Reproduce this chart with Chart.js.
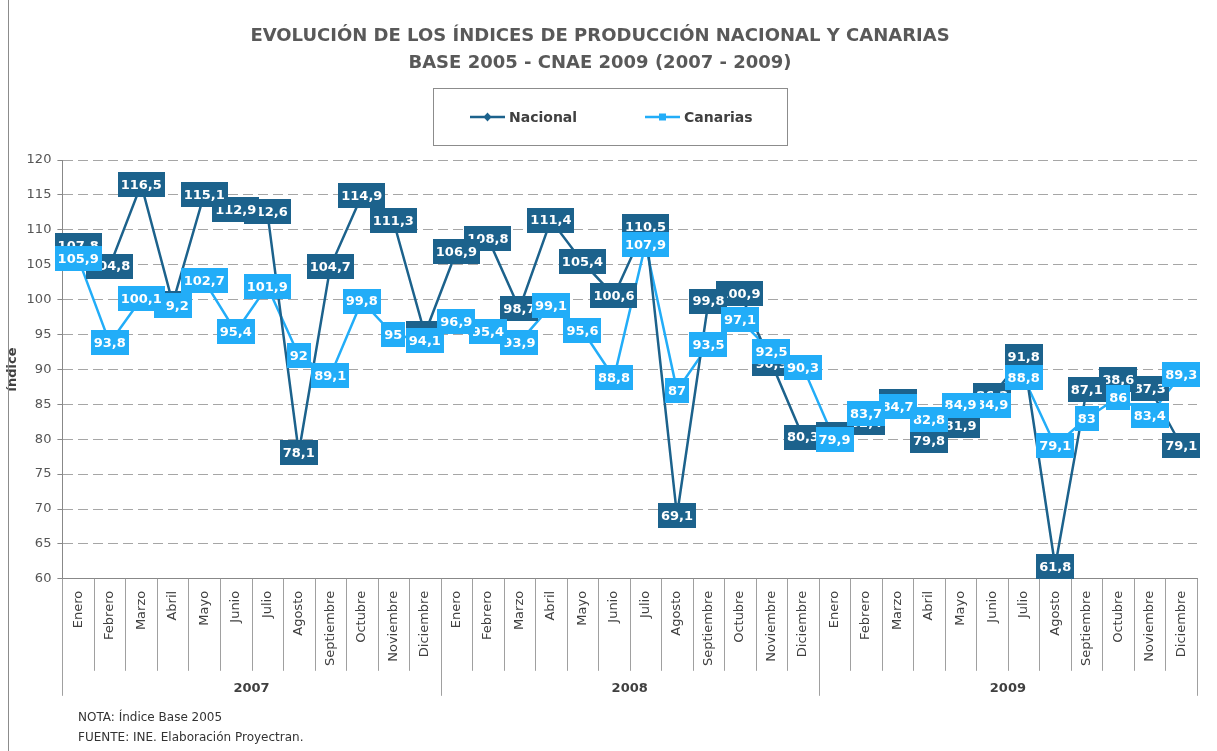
<!DOCTYPE html>
<html>
<head>
<meta charset="utf-8">
<script src="https://cdn.jsdelivr.net/npm/chart.js@4.4.1/dist/chart.umd.min.js"></script>
<style>
  html, body { margin: 0; padding: 0; background: #fff; }
  #wrap { width: 1217px; height: 751px; }
</style>
</head>
<body>
<div id="wrap"><canvas id="grafico" width="1217" height="751"></canvas></div>
<script>
// datos
const meses = ['Enero', 'Febrero', 'Marzo', 'Abril', 'Mayo', 'Junio', 'Julio', 'Agosto', 'Septiembre', 'Octubre', 'Noviembre', 'Diciembre'];
const anios = ['2007', '2008', '2009'];
const categorias = anios.flatMap(() => meses);

const nacional = [
    107.8, 104.8, 116.5, 99.5, 115.1, 112.9, 112.6, 78.1, 104.7, 114.9, 111.3, 95.1,
    106.9, 108.8, 98.7, 111.4, 105.4, 100.6, 110.5, 69.1, 99.8, 100.9, 90.9, 80.3,
    80.7, 82.4, 85.4, 79.8, 81.9, 86.2, 91.8, 61.8, 87.1, 88.6, 87.3, 79.1
];
const canarias = [
    105.9, 93.8, 100.1, 99.2, 102.7, 95.4, 101.9, 92, 89.1, 99.8, 95, 94.1,
    96.9, 95.4, 93.9, 99.1, 95.6, 88.8, 107.9, 87, 93.5, 97.1, 92.5, 90.3,
    79.9, 83.7, 84.7, 82.8, 84.9, 84.9, 88.8, 79.1, 83, 86, 83.4, 89.3
];
const yTicks = [60, 65, 70, 75, 80, 85, 90, 95, 100, 105, 110, 115, 120];

const colorNac = '#1c628c';
const colorCan = '#22adf8';
const FONT = '"DejaVu Sans", Verdana, sans-serif';

function fmt(v) {
    return String(v).replace('.', ',');
}

// etiquetas de valor con caja de color
const etiquetas = {
    id: 'etiquetas',
    afterDatasetsDraw(chart) {
        const ctx = chart.ctx;
        ctx.save();
        ctx.font = 'bold 13px ' + FONT;
        ctx.textAlign = 'center';
        ctx.textBaseline = 'middle';
        chart.data.datasets.forEach((ds, di) => {
            const meta = chart.getDatasetMeta(di);
            for (let i = meta.data.length - 1; i >= 0; i--) {
                const p = meta.data[i];
                const txt = fmt(ds.data[i]);
                const w = ctx.measureText(txt).width + 6;
                const h = 25;
                ctx.fillStyle = ds.borderColor;
                ctx.fillRect(Math.round(p.x - w / 2), Math.round(p.y - h / 2), Math.round(w), h);
                ctx.fillStyle = '#fff';
                ctx.fillText(txt, p.x, p.y + 1);
            }
        });
        ctx.restore();
    }
};

// leyenda en recuadro, separadores del eje x, años y notas
const extras = {
    id: 'extras',
    afterDraw(chart) {
        const ctx = chart.ctx;
        const area = chart.chartArea;
        const x = chart.scales.x;
        ctx.save();

        // marco exterior
        ctx.strokeStyle = '#8c8c8c';
        ctx.lineWidth = 1;
        ctx.beginPath();
        ctx.moveTo(8.5, 0);
        ctx.lineTo(8.5, 751);
        ctx.stroke();

        // leyenda
        ctx.strokeStyle = '#8c8c8c';
        ctx.strokeRect(433.5, 88.5, 354, 57);
        const items = [
            { x: 470, label: chart.data.datasets[0].label, color: colorNac, forma: 'rombo' },
            { x: 645, label: chart.data.datasets[1].label, color: colorCan, forma: 'cuadro' }
        ];
        const ly = 117;
        items.forEach(it => {
            ctx.strokeStyle = it.color;
            ctx.lineWidth = 2.5;
            ctx.beginPath();
            ctx.moveTo(it.x, ly);
            ctx.lineTo(it.x + 35, ly);
            ctx.stroke();
            ctx.fillStyle = it.color;
            const cx = it.x + 17.5;
            if (it.forma === 'rombo') {
                ctx.beginPath();
                ctx.moveTo(cx, ly - 4.5);
                ctx.lineTo(cx + 4, ly);
                ctx.lineTo(cx, ly + 4.5);
                ctx.lineTo(cx - 4, ly);
                ctx.closePath();
                ctx.fill();
            } else {
                ctx.fillRect(cx - 3.5, ly - 3.5, 7, 7);
            }
            ctx.fillStyle = '#404040';
            ctx.font = 'bold 14px ' + FONT;
            ctx.textAlign = 'left';
            ctx.textBaseline = 'middle';
            ctx.fillText(it.label, it.x + 39, ly + 1);
        });

        // separadores de meses y de años
        const ancho = (x.right - x.left) / categorias.length;
        const yb = area.bottom;
        ctx.strokeStyle = '#a0a0a0';
        ctx.lineWidth = 1;
        for (let i = 0; i <= categorias.length; i++) {
            const px = Math.round(x.left + i * ancho) + 0.5;
            const largo = (i % 12 === 0) ? 117 : 92;
            ctx.beginPath();
            ctx.moveTo(px, yb);
            ctx.lineTo(px, yb + largo);
            ctx.stroke();
        }
        ctx.fillStyle = '#404040';
        ctx.font = 'bold 13px ' + FONT;
        ctx.textAlign = 'center';
        ctx.textBaseline = 'middle';
        anios.forEach((a, g) => {
            ctx.fillText(a, x.left + (g * 12 + 6) * ancho, yb + 110);
        });

        // notas
        ctx.fillStyle = '#333';
        ctx.font = '12px ' + FONT;
        ctx.textAlign = 'left';
        ctx.fillText('NOTA: Índice Base 2005', 78, 718);
        ctx.fillText('FUENTE: INE. Elaboración Proyectran.', 78, 738);
        ctx.restore();
    }
};

const ctx = document.getElementById('grafico').getContext('2d');
new Chart(ctx, {
    type: 'line',
    data: {
        labels: categorias,
        datasets: [
            {
                label: 'Nacional',
                data: nacional,
                borderColor: colorNac,
                backgroundColor: colorNac,
                borderWidth: 2.5,
                pointRadius: 0,
                tension: 0
            },
            {
                label: 'Canarias',
                data: canarias,
                borderColor: colorCan,
                backgroundColor: colorCan,
                borderWidth: 2.5,
                pointRadius: 0,
                tension: 0
            }
        ]
    },
    options: {
        responsive: false,
        animation: false,
        devicePixelRatio: 1,
        layout: {
            padding: { left: 3, right: 20, top: 0, bottom: 73 }
        },
        plugins: {
            legend: { display: false },
            tooltip: { enabled: false },
            title: {
                display: true,
                text: ['EVOLUCIÓN DE LOS ÍNDICES DE PRODUCCIÓN NACIONAL Y CANARIAS', 'BASE 2005 - CNAE 2009 (2007 - 2009)'],
                color: '#595959',
                font: { family: FONT, size: 18, weight: 'bold', lineHeight: 1.5 },
                padding: { top: 23, bottom: 83 }
            }
        },
        scales: {
            x: {
                type: 'category',
                offset: true,
                grid: {
                    display: false,
                    drawTicks: false
                },
                border: { color: '#888' },
                ticks: {
                    autoSkip: false,
                    minRotation: 90,
                    maxRotation: 90,
                    padding: 12,
                    color: '#404040',
                    font: { family: FONT, size: 13 }
                }
            },
            y: {
                min: 60,
                max: 120,
                afterBuildTicks: (scale) => {
                    scale.ticks = yTicks.map(v => ({ value: v }));
                },
                grid: {
                    color: '#a6a6a6',
                    tickLength: 5,
                    tickColor: '#888',
                    tickBorderDash: []
                },
                border: { color: '#888', dash: [10, 5] },
                ticks: {
                    color: '#555',
                    padding: 6,
                    font: { family: FONT, size: 13 }
                },
                title: {
                    display: true,
                    text: 'índice',
                    color: '#404040',
                    padding: { top: 2, bottom: 0 },
                    font: { family: FONT, size: 13, weight: 'bold' }
                }
            }
        }
    },
    plugins: [etiquetas, extras]
});
</script>
</body>
</html>
